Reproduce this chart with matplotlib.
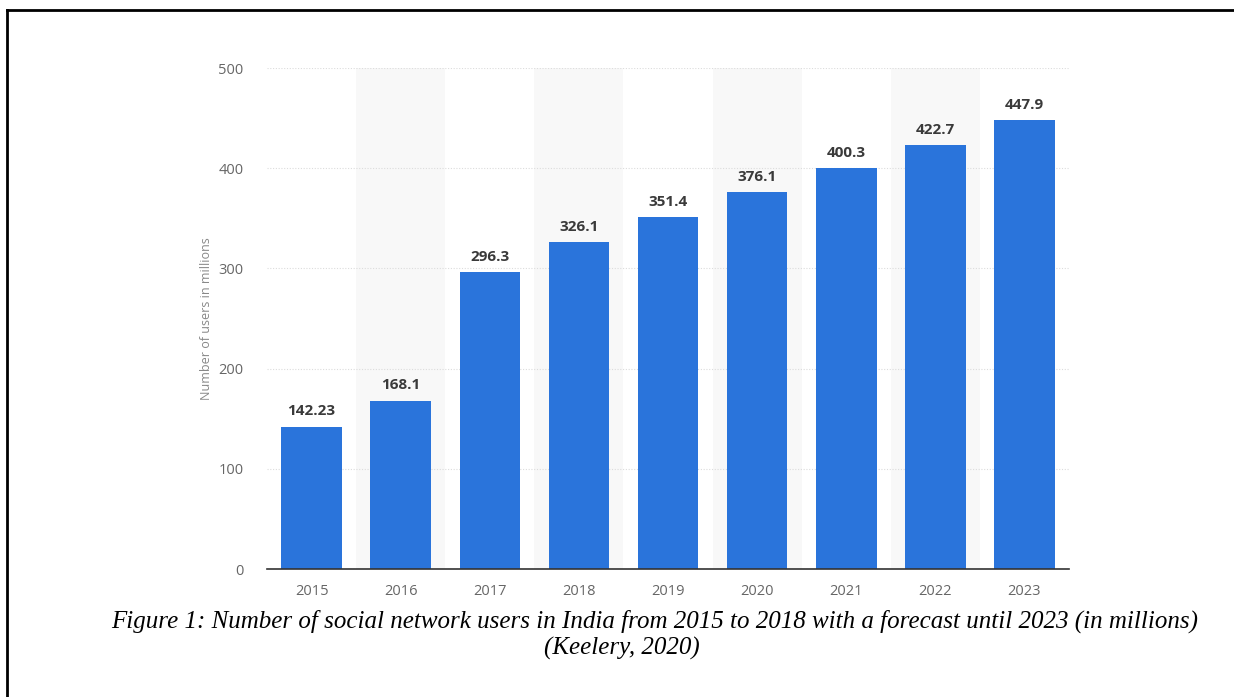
import matplotlib.pyplot as plt
from matplotlib.lines import Line2D

years = ['2015', '2016', '2017', '2018', '2019', '2020', '2021', '2022', '2023']
users = [142.23, 168.1, 296.3, 326.1, 351.4, 376.1, 400.3, 422.7, 447.9]
value_labels = ['142.23', '168.1', '296.3', '326.1', '351.4', '376.1', '400.3', '422.7', '447.9']
y_ticks = [0, 100, 200, 300, 400, 500]

caption_1 = 'Figure 1: Number of social network users in India from 2015 to 2018 with a forecast until 2023 (in millions)'
caption_2 = '(Keelery, 2020)'

fig = plt.figure(figsize=(12.34, 6.97), dpi=100)
ax = fig.add_axes([0.2164, 0.1836, 0.6499, 0.7188])

x = list(range(len(years)))

# alternating light column bands
for i in x:
    if i % 2 == 1:
        ax.axvspan(i - 0.5, i + 0.5, ymin=0, ymax=1, color='#f8f8f8', zorder=0, lw=0)

ax.bar(x, users, width=0.68, color='#2a74db', zorder=3)

for i, v in enumerate(users):
    ax.annotate(value_labels[i], (i, v), xytext=(0, 6), textcoords='offset points',
                ha='center', va='bottom', fontsize=11, fontweight='bold',
                color='#3a3a3a', family='Open Sans')

ax.set_xlim(-0.5, len(years) - 0.5)
ax.set_ylim(0, 500)
ax.set_yticks(y_ticks)
ax.set_xticks(x)
ax.set_xticklabels(years)
ax.grid(axis='y', linestyle=(0, (1, 1.5)), color='#dcdcdc', lw=0.8, zorder=1)
ax.set_axisbelow(True)

for side in ['top', 'right', 'left']:
    ax.spines[side].set_visible(False)
ax.spines['bottom'].set_color('#333333')
ax.spines['bottom'].set_linewidth(1.2)
ax.spines['bottom'].set_zorder(4)

ax.tick_params(axis='both', length=0, labelsize=10.5, labelcolor='#666666')
ax.tick_params(axis='y', pad=17)
ax.tick_params(axis='x', pad=11)
for lab in ax.get_xticklabels() + ax.get_yticklabels():
    lab.set_family('Open Sans')

ax.set_ylabel('Number of users in millions', fontsize=9, color='#888888',
              family='Open Sans', labelpad=4)
ax.set_facecolor('white')

fig.text(655 / 1234, 1 - 621 / 697, caption_1, ha='center', va='center', fontsize=18,
         style='italic', family='Liberation Serif', color='black')
fig.text(622 / 1234, 1 - 648 / 697, caption_2, ha='center', va='center', fontsize=18,
         style='italic', family='Liberation Serif', color='black')

# frame lines (top and left)
fig.add_artist(Line2D([7 / 1234, 1], [1 - 10 / 697, 1 - 10 / 697], color='black', lw=2,
                      transform=fig.transFigure))
fig.add_artist(Line2D([7 / 1234, 7 / 1234], [0, 1 - 10 / 697], color='black', lw=2,
                      transform=fig.transFigure))

fig.savefig('out.png', dpi=100)
